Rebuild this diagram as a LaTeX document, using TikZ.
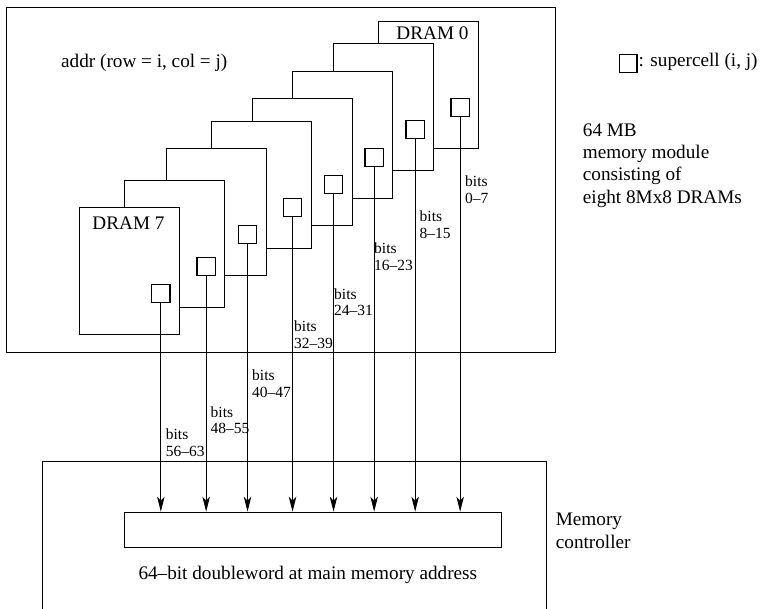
\documentclass[tikz,border=0pt]{standalone}
\usepackage{fontspec}
\setmainfont{Liberation Serif}
\usetikzlibrary{arrows.meta}
\begin{document}
\begin{tikzpicture}[x=1pt,y=-1pt,
  lw/.style={line width=1.1pt},
  box/.style={draw,fill=white,lw,minimum width=100pt,minimum height=127pt,inner sep=0pt,anchor=north west},
  cell/.style={draw,fill=white,lw,minimum size=18.3pt,inner sep=0pt},
  lbl/.style={font=\fontsize{19.2}{22}\selectfont,inner sep=0pt,anchor=base west},
  bitlbl/.style={font=\fontsize{15.5}{16.6}\selectfont,inner sep=0pt,anchor=base west},
  bus/.style={lw,-{Stealth[length=15pt,width=7.5pt,inset=4pt]}}]
\useasboundingbox (0,0) rectangle (761,609);

% memory module frame
\node[draw,lw,minimum width=549pt,minimum height=345pt,inner sep=0pt,anchor=north west] (module) at (6,7.3) {};

% DRAM chips, back (0) to front (7)
\foreach \i/\x/\y in {0/378.3/21,1/333.3/43.3,2/292.3/71,3/251.7/98.3,4/210.7/121,5/165.7/148.3,6/124.3/180,7/79/207.3}{
  \node[box] (d\i) at (\x,\y) {};
  \node[cell] (c\i) at (\x+81.85,\y+86.5) {};
}
\node[lbl,anchor=base] (t0) at (432.5,39.4) {DRAM 0};
\node[lbl,anchor=base] (t7) at (128.5,229.7) {DRAM 7};

\node[lbl] (addr) at (61,67.5) {addr (row = i, col = j)};

% legend
\node[cell,minimum size=17.5pt] (legsq) at (628.2,63.5) {};
\node[lbl] (legtxt) at (638.5,67) {: supercell (i, j)};

\node[lbl] (m1) at (582.7,136.4) {64 MB};
\node[lbl] (m2) at (582.7,158.7) {memory module};
\node[lbl] (m3) at (582.7,181.0) {consisting of};
\node[lbl] (m4) at (582.7,203.3) {eight 8Mx8 DRAMs};

% memory controller
\draw[lw] (42.7,612) |- (546.3,461.7) -- (546.3,612);
\node[draw,lw,minimum width=377pt,minimum height=35.6pt,inner sep=0pt,anchor=north west] (mem) at (124.3,511.7) {};
\node[lbl,anchor=base] (word) at (307.8,579.5) {64–bit doubleword at main memory address};
\node[lbl] (mc1) at (555.7,525.4) {Memory};
\node[lbl] (mc2) at (555.7,548.7) {controller};

% data lines
\foreach \i in {0,...,7}{
  \draw[bus] (c\i.south) -- (c\i.south |- mem.north);
}

% bit labels
\foreach \i/\x/\y/\t in {0/465/187/0–7,1/419.5/222/8–15,2/374/253.6/16–23,3/334/299.2/24–31,4/294/331.5/32–39,5/252/380.9/40–47,6/210.5/417.3/48–55,7/165.7/439.9/56–63}{
  \node[bitlbl] (ba\i) at (\x,\y) {bits};
  \node[bitlbl] (bb\i) at (\x,\y+16.6) {\t};
}
\end{tikzpicture}
\end{document}
